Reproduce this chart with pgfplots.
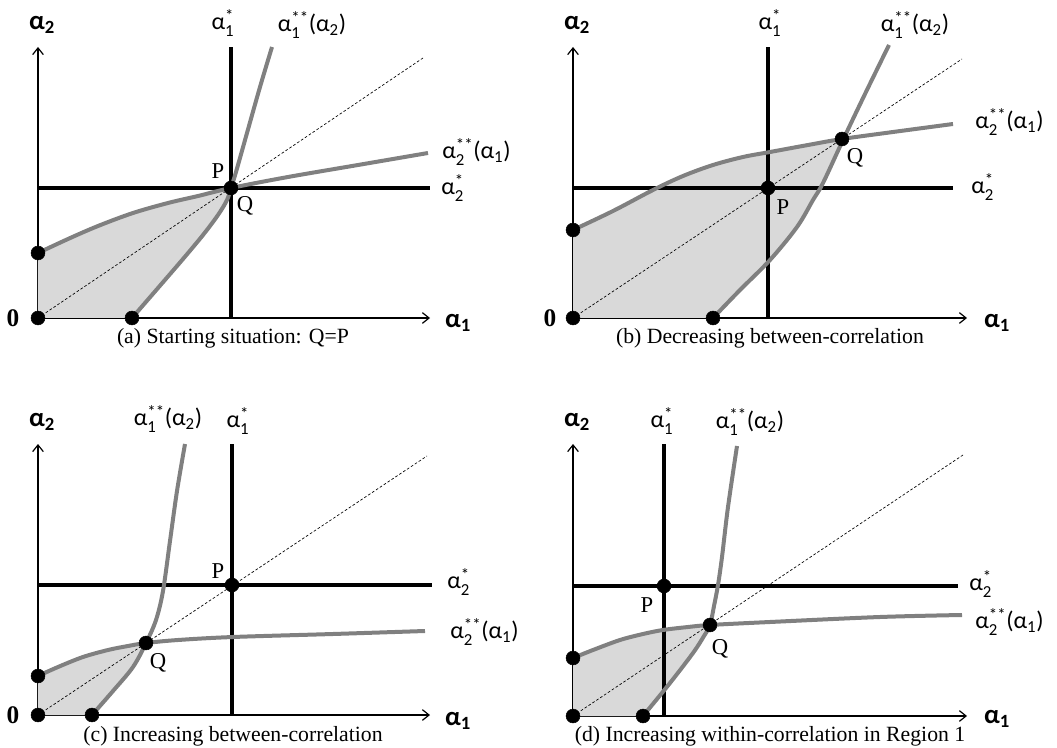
\documentclass[border=0pt]{standalone}
\usepackage{amsmath}
\usepackage{fontspec}
\setmainfont{Liberation Serif}
\newfontfamily\labfont{Carlito}
\usepackage{pgfplots}
\pgfplotsset{compat=1.18}
\usetikzlibrary{arrows.meta}
\definecolor{cgray}{RGB}{128,128,128}
\definecolor{cshade}{RGB}{217,217,217}
\newcommand{\As}[1]{$\text{α}^{\text{\raisebox{-0.25ex}{*}}}_{\text{#1}}$}
\newcommand{\Ass}[2]{$\text{α}^{\text{\raisebox{-0.25ex}{**}}}_{\text{#1}}\text{(α}_{\text{#2}}\text{)}$}
\newcommand{\Ab}[1]{$\text{\bfseries α}_{\text{\bfseries #1}}$}
\pgfplotsset{
  panel/.style={x=0.75pt,y=0.75pt,xmin=0,ymin=0,enlargelimits=false,
    axis lines=left,xtick=\empty,ytick=\empty,clip=false,axis on top=false,
    axis line style={line width=0.9pt,-{Straight Barb[length=5pt,width=8pt]}},
    anchor=south west},
}
\tikzset{
  myshade/.style={fill=cshade,draw=none},
  mydiag/.style={black,line width=0.5pt,dash pattern=on 2pt off 1.5pt},
  myblk/.style={black,line width=3pt},
  mygrc/.style={cgray,line width=3pt,smooth,tension=0.55},
  mydots/.style={only marks,mark=*,mark size=5.2pt,black},
  mylab/.style={font=\labfont\fontsize{18}{20}\selectfont,inner sep=0pt},
  mybold/.style={font=\labfont\fontsize{20}{22}\selectfont,inner sep=0pt},
  mypq/.style={font=\fontsize{17}{19}\selectfont,inner sep=0pt},
  myzero/.style={font=\bfseries\fontsize{19}{21}\selectfont,inner sep=0pt},
  mycapt/.style={font=\fontsize{16.3}{18}\selectfont,inner sep=0pt},
}
\begin{document}
\begin{tikzpicture}
\path[use as bounding box] (0pt,0pt) rectangle (792.75pt,-561pt);
% ---------------- (a)
\begin{axis}[panel,at={(28.5pt,-238.5pt)},xmax=392,ymax=271]
\addplot[myshade] coordinates {(0,0)(0,65)(30,79)(60,92)(95,105)(130,115)(160,122)(193,130)(189,118)(180,103)(165,83)(145,59)(120,30)(94,0)} -- cycle;
\addplot[mydiag] coordinates {(0,0)(385,260)};
\addplot[myblk] coordinates {(193,0)(193,271)};
\addplot[myblk] coordinates {(0,130)(392,130)};
\addplot[mygrc] coordinates {(0,65)(30,79)(60,92)(95,105)(130,115)(160,122)(193,130)(250,141)(320,153)(390,165)};
\addplot[mygrc] coordinates {(94,0)(120,30)(145,59)(165,83)(180,103)(189,118)(193,130)(198,146)(209,185)(222,231)(234,271)};
\addplot[mydots] coordinates {(0,0)(0,65)(94,0)(193,130)};
\node[mybold] at (axis cs:4,293) {\Ab{2}};
\node[mylab] at (axis cs:185,295) {\As{1}};
\node[mylab] at (axis cs:274,293) {\Ass{1}{2}};
\node[mylab,anchor=west] at (axis cs:404,166) {\Ass{2}{1}};
\node[mylab,anchor=west] at (axis cs:403,130) {\As{2}};
\node[mypq] at (axis cs:180,147) {P};
\node[mypq] at (axis cs:207,112) {Q};
\node[myzero] at (axis cs:-25,0) {0};
\node[mybold] at (axis cs:420,-5) {\Ab{1}};
\node[mycapt] at (axis cs:195,-20) {(a) Starting situation: Q=P};
\end{axis}
% ---------------- (b)
\begin{axis}[panel,at={(429.75pt,-238.5pt)},xmax=394,ymax=271]
\addplot[myshade] coordinates {(0,0)(0,88)(40,107)(80,128)(110,142)(140,153)(170,161)(197,166)(235,173)(269,179)(250,135)(240,118)(224,91)(197,58)(167,28)(140,0)} -- cycle;
\addplot[mydiag] coordinates {(0,0)(389,259)};
\addplot[myblk] coordinates {(195,0)(195,271)};
\addplot[myblk] coordinates {(0,130)(380,130)};
\addplot[mygrc] coordinates {(0,88)(40,107)(80,128)(110,142)(140,153)(170,161)(197,166)(235,173)(269,179)(320,186)(380,194)};
\addplot[mygrc] coordinates {(140,0)(167,28)(197,58)(224,91)(240,118)(250,135)(270,178)(292,224)(316,273)};
\addplot[mydots] coordinates {(0,0)(0,88)(140,0)(195,130)(269,179)};
\node[mybold] at (axis cs:4,293) {\Ab{2}};
\node[mylab] at (axis cs:197,295) {\As{1}};
\node[mylab] at (axis cs:342,293) {\Ass{1}{2}};
\node[mylab,anchor=west] at (axis cs:402,196) {\Ass{2}{1}};
\node[mylab,anchor=west] at (axis cs:398,131) {\As{2}};
\node[mypq] at (axis cs:210,111) {P};
\node[mypq] at (axis cs:282,160) {Q};
\node[myzero] at (axis cs:-23,0) {0};
\node[mybold] at (axis cs:424,-5) {\Ab{1}};
\node[mycapt] at (axis cs:197,-20) {(b) Decreasing between-correlation};
\end{axis}
% ---------------- (c)
\begin{axis}[panel,at={(28.5pt,-536.25pt)},xmax=392,ymax=271]
\addplot[myshade] coordinates {(0,0)(0,39)(20,48)(45,58)(70,65)(90,69)(108,72)(95,48)(75,24)(54,0)} -- cycle;
\addplot[mydiag] coordinates {(0,0)(389,259)};
\addplot[myblk] coordinates {(194,0)(194,271)};
\addplot[myblk] coordinates {(0,130)(394,130)};
\addplot[mygrc] coordinates {(0,39)(20,48)(45,58)(70,65)(90,69)(108,72)(140,75)(195,78)(295,81)(387,84)};
\addplot[mygrc] coordinates {(54,0)(75,24)(95,48)(108,72)(118,95)(125,124)(132,174)(139,224)(147,271)};
\addplot[mydots] coordinates {(0,0)(0,39)(54,0)(194,130)(108,72)};
\node[mybold] at (axis cs:4,293) {\Ab{2}};
\node[mylab] at (axis cs:130,296) {\Ass{1}{2}};
\node[mylab] at (axis cs:200,294) {\As{1}};
\node[mylab,anchor=west] at (axis cs:409,133) {\As{2}};
\node[mylab,anchor=west] at (axis cs:412,83) {\Ass{2}{1}};
\node[mypq] at (axis cs:180,144) {P};
\node[mypq] at (axis cs:120,52) {Q};
\node[myzero] at (axis cs:-25,0) {0};
\node[mybold] at (axis cs:420,-6) {\Ab{1}};
\node[mycapt] at (axis cs:195,-21) {(c) Increasing between-correlation};
\end{axis}
% ---------------- (d)
\begin{axis}[panel,at={(429.75pt,-537pt)},xmax=394,ymax=272]
\addplot[myshade] coordinates {(0,0)(0,58)(20,66)(47,76)(70,82)(90,86)(115,89)(137,91)(131,80)(120,63)(97,33)(70,0)} -- cycle;
\addplot[mydiag] coordinates {(0,0)(390,261)};
\addplot[myblk] coordinates {(91,0)(91,272)};
\addplot[myblk] coordinates {(0,130)(385,130)};
\addplot[mygrc] coordinates {(0,58)(20,66)(47,76)(70,82)(90,86)(115,89)(137,91)(197,94)(307,99)(389,101)};
\addplot[mygrc] coordinates {(70,0)(97,33)(120,63)(131,80)(137,91)(141,110)(145,131)(149,159)(155,209)(164,270)};
\addplot[mydots] coordinates {(0,0)(0,58)(70,0)(91,130)(137,91)};
\node[mybold] at (axis cs:4,294) {\Ab{2}};
\node[mylab] at (axis cs:89,295) {\As{1}};
\node[mylab] at (axis cs:177,294) {\Ass{1}{2}};
\node[mylab,anchor=west] at (axis cs:396,132) {\As{2}};
\node[mylab,anchor=west] at (axis cs:402,94) {\Ass{2}{1}};
\node[mypq] at (axis cs:74,111) {P};
\node[mypq] at (axis cs:147,67) {Q};
\node[mybold] at (axis cs:424,-3) {\Ab{1}};
\node[mycapt] at (axis cs:197,-20) {(d) Increasing within-correlation in Region 1};
\end{axis}
\end{tikzpicture}
\end{document}
